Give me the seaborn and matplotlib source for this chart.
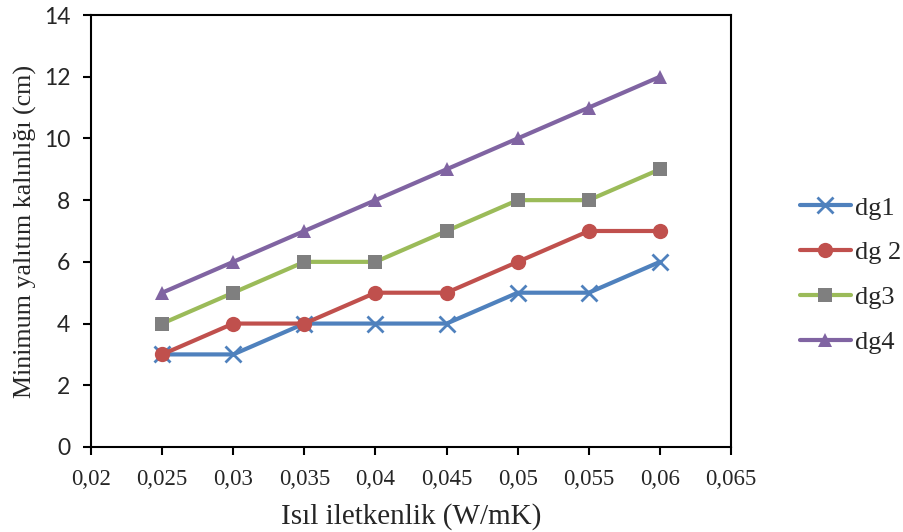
import matplotlib
matplotlib.use("Agg")
import matplotlib.pyplot as plt
import seaborn as sns
import pandas as pd
from matplotlib.ticker import FuncFormatter

x_vals = [0.025, 0.03, 0.035, 0.04, 0.045, 0.05, 0.055, 0.06]
dg1 = [3, 3, 4, 4, 4, 5, 5, 6]
dg2 = [3, 4, 4, 5, 5, 6, 7, 7]
dg3 = [4, 5, 6, 6, 7, 8, 8, 9]
dg4 = [5, 6, 7, 8, 9, 10, 11, 12]
series_names = ["dg1", "dg 2", "dg3", "dg4"]
x_ticks = [0.02, 0.025, 0.03, 0.035, 0.04, 0.045, 0.05, 0.055, 0.06, 0.065]
y_ticks = [0, 2, 4, 6, 8, 10, 12, 14]
colors = ["#4F81BD", "#C0504D", "#9BBB59", "#8064A2"]
marker_face = ["#4F81BD", "#C0504D", "#7F7F7F", "#8064A2"]
markers = ["x", "o", "s", "^"]
msizes = [11, 11, 10, 10]

sns.set_theme(style="white")
plt.rcParams['font.family'] = ['Liberation Serif', 'DejaVu Sans']

fig = plt.figure(figsize=(9.04, 5.32), dpi=100)
ax = fig.add_axes([0.1007, 0.1598, 0.708, 0.812])

for name, vals, c, mf, m, ms in zip(series_names, [dg1, dg2, dg3, dg4], colors, marker_face, markers, msizes):
    df = pd.DataFrame({"x": x_vals, "y": vals})
    sns.lineplot(data=df, x="x", y="y", ax=ax, color=c, linewidth=3, marker=m,
                 markersize=ms, markerfacecolor=mf, markeredgecolor=mf,
                 markeredgewidth=2 if m == "x" else 0, label=name)

ax.set_xlim(0.02, 0.065)
ax.set_ylim(0, 14)
ax.set_xticks(x_ticks)
ax.set_yticks(y_ticks)
ax.xaxis.set_major_formatter(FuncFormatter(lambda v, p: ("%g" % round(v, 3)).replace(".", ",")))
for s in ax.spines.values():
    s.set_color("black")
    s.set_linewidth(1.5)
ax.tick_params(axis="both", direction="out", length=6, width=1.5, color="black", bottom=True, left=True)
ax.tick_params(axis="y", labelsize=16.5, labelfontfamily="Lato", pad=9)
ax.tick_params(axis="x", labelsize=16.5, labelfontfamily="Liberation Serif", pad=10)
ax.set_xlabel("Isıl iletkenlik (W/mK)", fontsize=21, labelpad=9)
ax.set_ylabel("Minimum yalıtım kalınlığı (cm)", fontsize=18.7, labelpad=5)

leg = ax.legend(loc="center left", bbox_to_anchor=(1.07, 0.398), frameon=False,
                fontsize=19, handlelength=1.95, labelspacing=0.81, handletextpad=0.15)

fig.savefig("out.png", dpi=100)
